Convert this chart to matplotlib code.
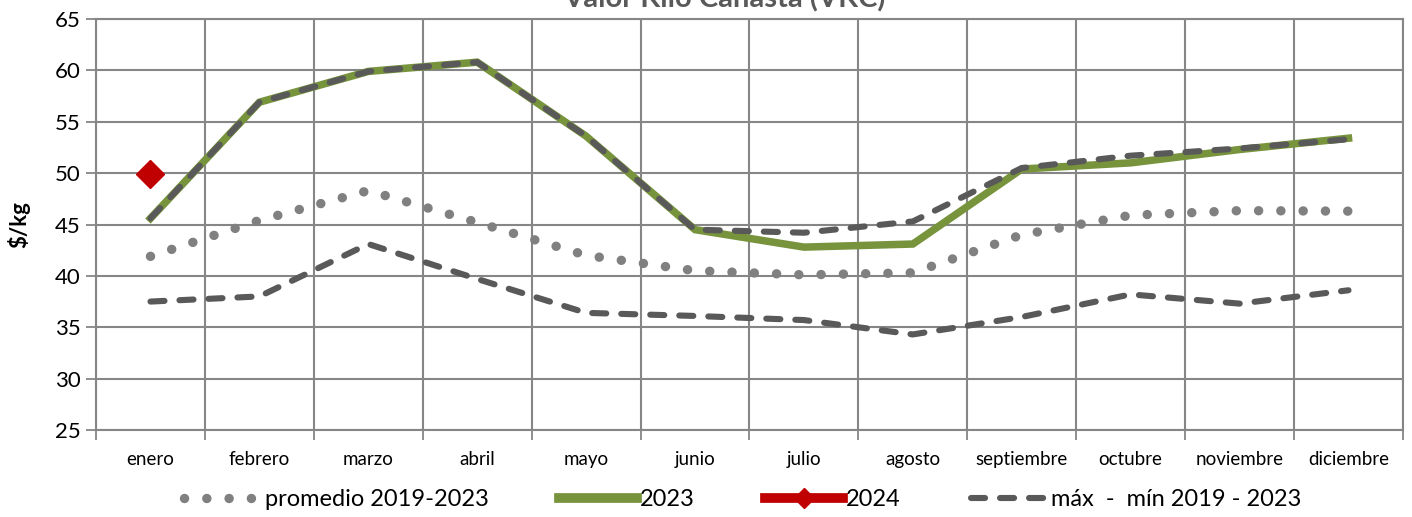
import numpy as np
import matplotlib
matplotlib.use("Agg")
import matplotlib.pyplot as plt

plt.rcParams["font.family"] = ["Lato", "DejaVu Sans"]

meses = ["enero", "febrero", "marzo", "abril", "mayo", "junio", "julio",
         "agosto", "septiembre", "octubre", "noviembre", "diciembre"]
promedio = [41.9, 45.4, 48.3, 45.2, 42.0, 40.5, 40.1, 40.3, 44.0, 45.9, 46.35, 46.3]
v2023 = [45.6, 56.9, 59.9, 60.8, 53.6, 44.5, 42.8, 43.1, 50.4, 51.0, 52.3, 53.4]
v2024 = [49.9]
maximo = [45.6, 56.9, 59.9, 60.8, 53.6, 44.5, 44.2, 45.3, 50.5, 51.7, 52.4, 53.3]
minimo = [37.5, 38.0, 43.1, 39.7, 36.4, 36.1, 35.7, 34.3, 36.0, 38.2, 37.3, 38.6]

grid_c = "#868686"
gris = "#595959"

fig = plt.figure(figsize=(14.12, 5.17), dpi=100)
ax = fig.add_axes([0.068, 0.1683, 0.9256, 0.7949])
x = np.arange(len(meses))

ax.plot(x, promedio, color="#808080", lw=6.8, linestyle=(0, (0.01, 2.35)),
        dash_capstyle="round", label="promedio 2019-2023", zorder=3)
ax.plot(x, v2023, color="#77933C", lw=5.4, solid_joinstyle="miter",
        label="2023", zorder=4)
ax.plot(x[:len(v2024)], v2024, color="#C00000", lw=6, marker="D",
        markersize=14, label="2024", zorder=6)
ax.plot(x, maximo, color=gris, lw=4.4, linestyle=(0, (2.3, 2.45)),
        dash_capstyle="round", label="máx  -  mín 2019 - 2023", zorder=5)
ax.plot(x, minimo, color=gris, lw=4.4, linestyle=(0, (2.3, 2.45)),
        dash_capstyle="round", label="_nolegend_", zorder=5)

ax.set_xlim(-0.5, 11.5)
ax.set_ylim(25, 65)
ax.set_yticks(np.arange(25, 66, 5))
ax.set_xticks(x)
ax.set_xticklabels(meses, fontsize=13.5)
ax.set_xticks(np.arange(-0.5, 12, 1), minor=True)
ax.tick_params(axis="x", which="major", length=0, pad=15)
ax.tick_params(axis="x", which="minor", length=7, width=1.3, color=grid_c)
ax.tick_params(axis="y", length=7, width=1.3, color=grid_c, labelsize=16, pad=4)
ax.grid(axis="y", which="major", color=grid_c, lw=1.5)
ax.grid(axis="x", which="minor", color=grid_c, lw=1.5)
ax.set_axisbelow(True)
for s in ax.spines.values():
    s.set_color(grid_c)
    s.set_linewidth(1.5)

ax.set_ylabel("$/kg", fontsize=16, fontweight="bold")
ax.yaxis.set_label_coords(-0.05, 0.5)

fig.text(0.513, 0.975, "Valor Kilo Canasta (VKC)", ha="center", va="bottom",
         fontsize=21, fontweight="bold", color=gris)

leg = ax.legend(loc="center", bbox_to_anchor=(0.495, -0.17), ncol=4,
                frameon=False, fontsize=17, handlelength=3.3, handletextpad=0.1,
                columnspacing=3.0)
hs = leg.legend_handles
hs[1].set_linewidth(7)
hs[2].set_linewidth(7)
hs[2].set_markersize(10)

fig.savefig("out.png", dpi=100)
